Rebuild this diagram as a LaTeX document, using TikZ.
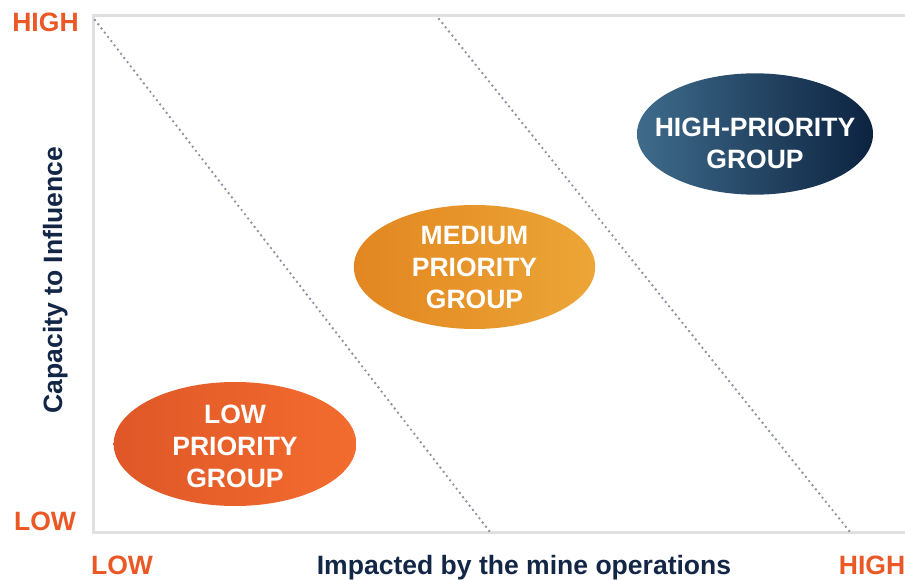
\documentclass[tikz,border=0pt]{standalone}
\usepackage{xcolor}
\usepackage{fontspec}
\setmainfont{Liberation Sans}
\usepackage{tikz}
\usetikzlibrary{shapes.geometric}

\definecolor{axisorange}{RGB}{234,88,37}
\definecolor{axisnavy}{RGB}{19,38,70}
\definecolor{framegray}{RGB}{224,224,224}
\definecolor{dotgray}{RGB}{140,146,160}

\tikzset{
  groupblob/.style={ellipse,inner sep=0pt},
  grouptext/.style={inner sep=0pt,text=white,align=center,
    font=\fontsize{19.9}{24}\selectfont\bfseries},
  axislabel/.style={anchor=base,inner sep=0pt,font=\fontsize{19.9}{24}\selectfont\bfseries},
  divider/.style={dotgray,line width=2pt,line cap=round,dash pattern=on 0pt off 4pt}
}

\begin{document}
\begin{tikzpicture}[x=0.75pt,y=0.75pt,yscale=-1,xscale=1]
    \useasboundingbox (0,0) rectangle (905,580);

        \draw [framegray,line width=2.25pt] (905,16) -- (93,16) -- (93,532) -- (905,532) ;

        \coordinate (d1a) at (95,20);
        \coordinate (d1b) at (490,532);
        \coordinate (d2a) at (439,19);
        \coordinate (d2b) at (850,532);
        \draw [divider] (d1a) -- (d1b) ;
        \draw [divider] (d2a) -- (d2b) ;

        \node [groupblob,minimum width=182pt,minimum height=93pt,left color={rgb,255:red,223;green,87;blue,39},right color={rgb,255:red,243;green,108;blue,46}] (low) at (235,444) {};
        \node [groupblob,minimum width=181pt,minimum height=93pt,left color={rgb,255:red,226;green,134;blue,33},right color={rgb,255:red,236;green,166;blue,54}] (medium) at (474.5,267) {};
        \node [groupblob,minimum width=177pt,minimum height=91pt,left color={rgb,255:red,63;green,107;blue,139},right color={rgb,255:red,12;green,35;blue,64}] (high) at (755,134) {};

        \node [grouptext] (lowtext) at ([yshift=1.5pt]low.center) {LOW\\PRIORITY\\GROUP};
        \node [grouptext] (mediumtext) at ([yshift=0.5pt]medium.center) {MEDIUM\\PRIORITY\\GROUP};
        \node [grouptext] (hightext) at ([yshift=6.75pt]high.center) {HIGH-PRIORITY\\GROUP};

        \node [axislabel,text=axisorange] (yhigh) at (45.5,32) {HIGH};
        \node [axislabel,text=axisorange] (ylow) at (45,530) {LOW};
        \node [axislabel,text=axisorange] (xlow) at (122,574) {LOW};
        \node [axislabel,text=axisorange] (xhigh) at (872,574) {HIGH};
        \node [axislabel,text=axisnavy] (xtitle) at (524,574) {Impacted by the mine operations};
        \node [axislabel,text=axisnavy,rotate=90] (ytitle) at (62,280) {Capacity to Influence};
    \end{tikzpicture}
\end{document}
